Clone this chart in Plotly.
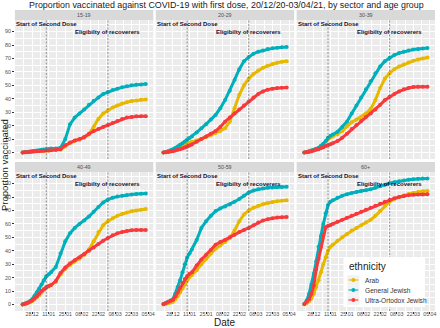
import plotly.graph_objects as go

# ---------------- data ----------------
dates = ["2020-12-20", "2020-12-22", "2020-12-24", "2020-12-26", "2020-12-28", "2020-12-30",
         "2021-01-01", "2021-01-03", "2021-01-05", "2021-01-07", "2021-01-09", "2021-01-11",
         "2021-01-13", "2021-01-17", "2021-01-21", "2021-01-25", "2021-01-29",
         "2021-02-02", "2021-02-06", "2021-02-10", "2021-02-14", "2021-02-18", "2021-02-22", "2021-02-26",
         "2021-03-02", "2021-03-06", "2021-03-10", "2021-03-14", "2021-03-18", "2021-03-22",
         "2021-03-26", "2021-03-30", "2021-04-03"]

age_groups = ["15-19", "20-29", "30-39", "40-49", "50-59", "60+"]
ethnicities = ["Arab", "General Jewish", "Ultra-Ortodox Jewish"]

x_tick_dates = ["2020-12-28", "2021-01-11", "2021-01-25", "2021-02-08",
                "2021-02-22", "2021-03-08", "2021-03-22", "2021-04-05"]
x_tick_labels = ["28.12", "11.01", "25.01", "08.02", "22.02", "08.03", "22.03", "05.04"]
x_minor_dates = ["2020-12-14", "2020-12-21", "2021-01-04", "2021-01-18", "2021-02-01",
                 "2021-02-15", "2021-03-01", "2021-03-15", "2021-03-29"]
y_tick_values = [0, 10, 20, 30, 40, 50, 60, 70, 80, 90]

arab_15_19 = [0, 0.2, 0.4, 0.6, 0.8, 1, 1.1, 1.2, 1.3, 1.4, 1.5, 1.6, 1.7, 1.9, 2.2, 4.5, 7,
              8.5, 9.5, 11, 13.5, 19, 25, 29, 31.5, 33.5, 35, 36.5, 37.5, 38.3, 38.8, 39.2, 39.5]
general_15_19 = [0, 0.3, 0.5, 0.8, 1, 1.2, 1.5, 1.7, 2, 2.2, 2.5, 2.7, 3, 3, 3.5, 10, 21,
                 26, 29, 32, 35.5, 38.5, 41, 43.5, 45, 46.5, 47.5, 48.5, 49.3, 50, 50.4, 50.7, 51]
ultra_15_19 = [0, 0.2, 0.3, 0.5, 0.7, 0.8, 1, 1.1, 1.3, 1.4, 1.5, 1.6, 1.8, 2, 2.5, 5.5, 7.5,
               9, 10, 11.5, 14, 16, 17.5, 19, 20.5, 22, 23.5, 25, 26, 26.5, 27, 27, 27]

arab_20_29 = [0, 0.2, 0.5, 1, 1.5, 2.2, 3, 3.8, 4.5, 5.5, 6.5, 7.3, 8, 9, 10, 11.5, 13,
              14.5, 16, 18, 23, 33, 43, 50, 55, 58.5, 61, 63, 64.5, 65.8, 66.8, 67.5, 68]
general_20_29 = [0, 0.5, 1, 1.8, 2.5, 3.5, 4.5, 5.8, 7, 8.2, 9.5, 10.8, 12, 15, 18, 21, 24.5,
                 28, 33, 39, 46, 54, 62, 68, 71, 73.5, 75, 76, 77, 77.5, 78, 78.3, 78.5]
ultra_20_29 = [0, 0.2, 0.5, 0.8, 1, 1.5, 2, 2.5, 3, 3.8, 4.5, 5.2, 6, 8, 10, 12, 14,
               16, 19, 23, 26, 29, 32, 35, 38, 41, 43.5, 45.5, 46.8, 47.5, 48, 48.2, 48.3]

arab_30_39 = [0, 0.5, 1, 1.5, 2, 2.8, 3.5, 4.8, 6, 8, 10, 11, 12, 13.5, 16, 19.5, 22.5,
              24.5, 26.5, 29, 32.5, 39, 48, 55, 59, 62, 64, 65.5, 67, 68.2, 69.2, 70, 70.7]
general_30_39 = [0, 0.5, 1, 1.5, 2, 2.8, 3.5, 5, 6.5, 8.5, 11, 12.5, 13.5, 15.5, 19, 23, 29,
                 35, 41, 47, 53, 59, 64, 68, 70.5, 72.5, 74, 75, 76, 76.6, 77, 77.4, 77.7]
ultra_30_39 = [0, 0.2, 0.5, 1, 1.5, 2, 2.5, 3.2, 4, 4.8, 5.5, 6.2, 7, 8.5, 11, 14, 17.5,
               20.5, 23.5, 26.5, 29, 32, 35.5, 39, 41.5, 43.5, 45.5, 47, 48, 48.7, 49, 49, 49]

arab_40_49 = [0, 0.4, 1, 1.6, 2.5, 4, 5.5, 7, 9, 11, 12.5, 13.5, 14.5, 17, 22.5, 26.5, 29.5,
              32, 34, 37, 41, 47, 54, 59, 62, 64.2, 66, 67.4, 68.5, 69.4, 70, 70.5, 71]
general_40_49 = [0.3, 0.8, 1.5, 2.5, 4, 6.5, 9, 12, 15, 18, 21, 22.5, 24, 28, 38, 47, 53,
                 57, 60, 62.5, 65.5, 69, 72.5, 76, 78, 79.5, 80.3, 81, 81.5, 81.9, 82.2, 82.4, 82.6]
ultra_40_49 = [0, 0.5, 1.2, 2, 3, 4.5, 6, 8, 10, 11.5, 13, 13.8, 14.5, 17.5, 23.5, 27.5, 30.5,
               33, 35, 37.5, 40, 42.5, 45, 47.5, 49.5, 51.5, 53, 54, 54.8, 55.2, 55.4, 55.5, 55.5]

arab_50_59 = [0, 0.5, 1, 1.5, 2, 4, 6, 9, 12, 15, 18, 20.5, 22, 25.5, 30, 34, 38,
              41.5, 44, 46.5, 49.5, 55, 62, 67, 70, 72, 73.5, 74.6, 75.5, 76.3, 76.9, 77.3, 77.6]
general_50_59 = [0.5, 1.2, 2, 3, 4, 8, 13, 18, 24, 30, 35, 38, 41, 48, 57, 62, 66,
                 69.5, 71.5, 73, 74.5, 76.5, 78.5, 81, 83.3, 84.8, 85.7, 86.3, 86.8, 87.1, 87.3, 87.5, 87.6]
ultra_50_59 = [0.5, 1.2, 2, 2.8, 3.5, 6, 9, 12.5, 16, 19, 21, 23, 24, 29, 33.5, 37, 40.5,
               44.5, 46.5, 48, 50, 52, 54, 55.5, 57, 59, 61, 62.5, 63.5, 64.2, 64.7, 65, 65.2]

arab_60 = [0.3, 1, 2.5, 4.5, 8, 13, 18, 24, 30, 35, 40, 43, 44.5, 47.5, 50, 52.5, 55,
           57, 59, 61, 63, 66, 69.5, 73.5, 76.5, 78.5, 80, 81.2, 82.2, 83, 83.7, 84.2, 84.5]
general_60 = [0.5, 3, 8, 15, 23, 32, 43, 51, 60, 68, 74, 76.5, 77.5, 79.5, 81, 82, 83,
              83.8, 84.4, 85, 85.8, 86.8, 88, 89.2, 90.2, 91, 91.7, 92.3, 92.8, 93.2, 93.5, 93.7, 93.8]
ultra_60 = [0.5, 2, 4, 8, 14, 26, 34, 43, 52, 57.5, 58.5, 59, 60, 61.5, 63, 64.5, 66,
            67.5, 69, 70.5, 72, 73.5, 75, 76.5, 77.8, 79, 80, 80.8, 81.3, 81.6, 81.8, 81.9, 82]

series = {
    "15-19": [arab_15_19, general_15_19, ultra_15_19],
    "20-29": [arab_20_29, general_20_29, ultra_20_29],
    "30-39": [arab_30_39, general_30_39, ultra_30_39],
    "40-49": [arab_40_49, general_40_49, ultra_40_49],
    "50-59": [arab_50_59, general_50_59, ultra_50_59],
    "60+": [arab_60, general_60, ultra_60],
}

event_dates = ["2021-01-09", "2021-03-02"]
event_labels = ["Start of Second Dose", "Eligibilty of recoverers"]
event_label_y = [96, 90]

colors = ["#E7B800", "#00AFBB", "#F8393C"]

# ---------------- layout geometry (pixels) ----------------
W, H = 440, 328
col_left = [15, 156.5, 298]
col_w = 139
row_top = [20, 172]
row_h = 139
strip_h = 10
FONT = "Liberation Sans, Arial, sans-serif"


def px_x(p):
    return p / W


def px_y(p):
    return 1 - p / H


fig = go.Figure()
shapes = []
annotations = []
layout_axes = {}

for i, age in enumerate(age_groups):
    r, c = divmod(i, 3)
    n = i + 1
    xa = "x" if n == 1 else f"x{n}"
    ya = "y" if n == 1 else f"y{n}"
    xkey = "xaxis" if n == 1 else f"xaxis{n}"
    ykey = "yaxis" if n == 1 else f"yaxis{n}"
    l = col_left[c]
    t = row_top[r]

    for k, eth in enumerate(ethnicities):
        fig.add_trace(go.Scatter(
            x=dates, y=series[age][k], mode="lines+markers",
            line=dict(color=colors[k], width=3),
            marker=dict(color=colors[k], size=4),
            name=eth, showlegend=False, xaxis=xa, yaxis=ya,
            hoverinfo="skip"))

    layout_axes[xkey] = dict(
        domain=[px_x(l), px_x(l + col_w)], anchor=ya,
        type="date", range=["2020-12-13 12:00", "2021-04-09 08:00"],
        tickmode="array", tickvals=x_tick_dates, ticktext=x_tick_labels,
        showgrid=True, gridcolor="white", gridwidth=0.6,
        minor=dict(tickmode="array", tickvals=x_minor_dates,
                   showgrid=True, gridcolor="white", gridwidth=0.3),
        showticklabels=(r == 1), ticks="outside" if r == 1 else "",
        ticklen=2, tickwidth=0.5, tickcolor="#333333", ticklabelstandoff=-4,
        tickfont=dict(size=5.3, color="#4D4D4D", family=FONT),
        zeroline=False, showline=False, fixedrange=True)
    layout_axes[ykey] = dict(
        domain=[px_y(t + row_h), px_y(t)], anchor=xa,
        range=[-4.8, 98.6], tickmode="array", tickvals=y_tick_values,
        showgrid=True, gridcolor="white", gridwidth=0.6,
        minor=dict(tick0=5, dtick=10, showgrid=True, gridcolor="white", gridwidth=0.3),
        showticklabels=(c == 0), ticks="outside" if c == 0 else "",
        ticklen=2, tickwidth=0.5, tickcolor="#333333",
        tickfont=dict(size=5.3, color="#4D4D4D", family=FONT),
        zeroline=False, showline=False, fixedrange=True)

    # panel background
    shapes.append(dict(type="rect", xref="paper", yref="paper", layer="below",
                       x0=px_x(l), x1=px_x(l + col_w), y0=px_y(t + row_h), y1=px_y(t),
                       fillcolor="#EBEBEB", line=dict(width=0)))
    # strip
    shapes.append(dict(type="rect", xref="paper", yref="paper", layer="below",
                       x0=px_x(l), x1=px_x(l + col_w), y0=px_y(t), y1=px_y(t - strip_h),
                       fillcolor="#D9D9D9", line=dict(width=0)))
    annotations.append(dict(text=age, xref="paper", yref="paper",
                            x=px_x(l + col_w / 2), y=px_y(t - strip_h / 2),
                            xanchor="center", yanchor="middle", showarrow=False,
                            font=dict(size=5.3, color="#4D4D4D", family=FONT)))
    # event lines and labels
    for d, lab, ly in zip(event_dates, event_labels, event_label_y):
        shapes.append(dict(type="line", xref=xa, yref=f"{ya} domain",
                           x0=d, x1=d, y0=0, y1=1, layer="above",
                           line=dict(color="#555555", width=0.6, dash="2px,1.5px")))
        annotations.append(dict(text=f"<b>{lab}</b>", xref=xa, yref=ya, x=d, y=ly,
                                xanchor="center", yanchor="middle", showarrow=False,
                                font=dict(size=6, color="#150B2E", family=FONT)))

# titles
annotations.append(dict(
    text="Proportion vaccinated against COVID-19 with first dose, 20/12/20-03/04/21, by sector and age group",
    xref="paper", yref="paper", x=px_x(227.5), y=px_y(5.5), xanchor="center", yanchor="middle",
    showarrow=False, font=dict(size=8.9, color="#1A1A1A", family=FONT)))
annotations.append(dict(text="Proportion vaccinated", xref="paper", yref="paper",
                        x=px_x(4), y=px_y(165), textangle=-90, xanchor="center", yanchor="middle",
                        showarrow=False, font=dict(size=9.5, color="#1A1A1A", family=FONT)))
annotations.append(dict(text="Date", xref="paper", yref="paper", x=px_x(226), y=px_y(322.5),
                        xanchor="center", yanchor="middle", showarrow=False,
                        font=dict(size=10, color="#1A1A1A", family=FONT)))

# manual legend (inside 60+ panel)
lg_l, lg_t, lg_r, lg_b = 345, 257, 427, 307
shapes.append(dict(type="rect", xref="paper", yref="paper", layer="above",
                   x0=px_x(lg_l), x1=px_x(lg_r), y0=px_y(lg_b), y1=px_y(lg_t),
                   fillcolor="white", line=dict(width=0)))
annotations.append(dict(text="ethnicity", xref="paper", yref="paper", x=px_x(348.5), y=px_y(266),
                        xanchor="left", yanchor="middle", showarrow=False,
                        font=dict(size=10, color="#1A1A1A", family=FONT)))
for k, eth in enumerate(ethnicities):
    cy = 280 + 10 * k
    shapes.append(dict(type="rect", xref="paper", yref="paper", layer="above",
                       x0=px_x(349), x1=px_x(361), y0=px_y(cy + 4.8), y1=px_y(cy - 4.8),
                       fillcolor="#F2F2F2", line=dict(width=0)))
    shapes.append(dict(type="line", xref="paper", yref="paper", layer="above",
                       x0=px_x(350), x1=px_x(360), y0=px_y(cy), y1=px_y(cy),
                       line=dict(color=colors[k], width=1.1)))
    shapes.append(dict(type="circle", xref="paper", yref="paper", layer="above",
                       x0=px_x(353), x1=px_x(357), y0=px_y(cy + 2), y1=px_y(cy - 2),
                       fillcolor=colors[k], line=dict(width=0)))
    annotations.append(dict(text=eth, xref="paper", yref="paper", x=px_x(364.5), y=px_y(cy),
                            xanchor="left", yanchor="middle", showarrow=False,
                            font=dict(size=6.6, color="#333333", family=FONT)))

fig.update_layout(
    width=W, height=H, margin=dict(l=0, r=0, t=0, b=0),
    paper_bgcolor="white", plot_bgcolor="rgba(0,0,0,0)",
    showlegend=False, shapes=shapes, annotations=annotations,
    font=dict(family=FONT), **layout_axes)

fig.write_html("out.html", config={"displayModeBar": False},
               post_script="document.body.style.margin='0px';document.body.style.overflow='hidden';")
